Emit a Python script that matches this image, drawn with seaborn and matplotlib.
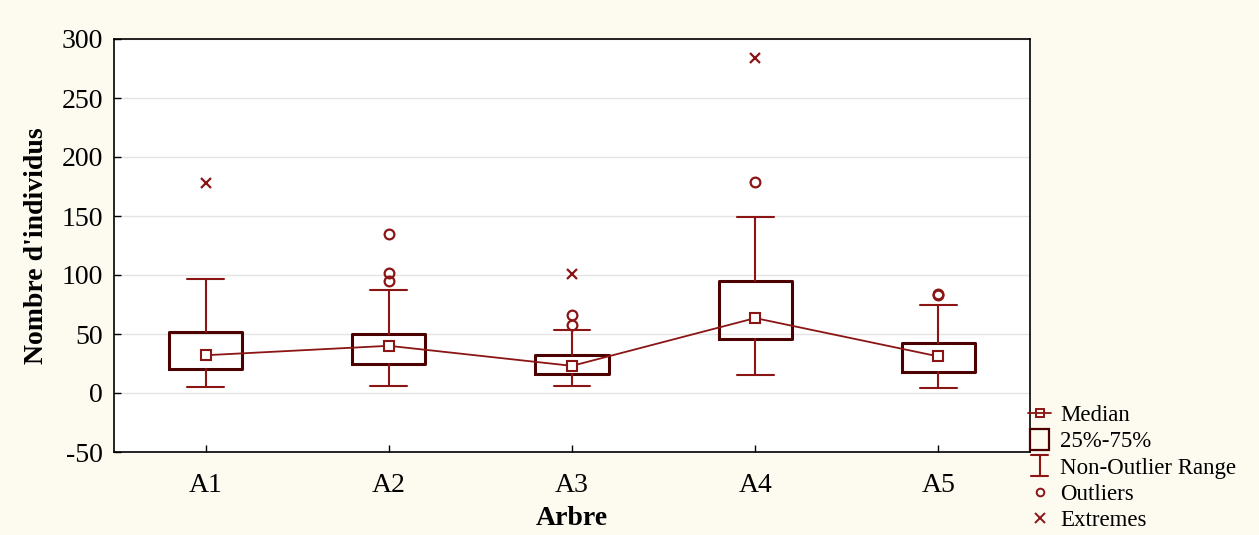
import numpy as np
import pandas as pd
import matplotlib
matplotlib.use("Agg")
import matplotlib.pyplot as plt
import seaborn as sns
from matplotlib.lines import Line2D
from matplotlib.patches import Rectangle
from matplotlib.legend_handler import HandlerBase

# ---- data ----
categories = ["A1", "A2", "A3", "A4", "A5"]
medians = [32, 40, 23, 63.5, 31]
q1 = [20, 24.5, 16, 46, 18]
q3 = [52, 50, 32, 95, 42]
whisker_low = [5, 6, 6, 15, 4]
whisker_high = [97, 87, 53, 149, 75]
outliers = [[], [135, 102, 95], [66, 58], [179], [84, 83]]
extremes = [[178], [], [101], [284], []]
yticks = [-50, 0, 50, 100, 150, 200, 250, 300]

BOX_C = "#4d0000"
LINE_C = "#8b1414"
BG = "#fdfaf0"

sns.set_theme(style="white")
plt.rcParams["font.family"] = ["Liberation Serif", "DejaVu Serif"]
plt.rcParams["text.color"] = "black"
plt.rcParams["axes.labelcolor"] = "black"

fig = plt.figure(figsize=(12.59, 5.35), dpi=100, facecolor=BG)
ax = fig.add_axes([114/1259, 1-452/535, (1030-114)/1259, (452-39)/535])
ax.set_facecolor("white")

pos = np.arange(len(categories))
stats = []
for i, c in enumerate(categories):
    stats.append(dict(label=c, med=medians[i], q1=q1[i], q3=q3[i],
                      whislo=whisker_low[i], whishi=whisker_high[i], fliers=[]))
ax.bxp(stats, positions=pos, widths=0.4, showfliers=False, patch_artist=False,
       boxprops=dict(color=BOX_C, linewidth=2.2),
       whiskerprops=dict(color=LINE_C, linewidth=1.5),
       capprops=dict(color=LINE_C, linewidth=1.5),
       medianprops=dict(linewidth=0), capwidths=0.2, zorder=3)

# median line with square markers
med_df = pd.DataFrame({"x": pos, "y": medians})
sns.lineplot(data=med_df, x="x", y="y", ax=ax, color=LINE_C, linewidth=1.3,
             marker="s", markersize=6.5, markerfacecolor="white",
             markeredgecolor=LINE_C, markeredgewidth=1.5, zorder=4)

out_df = pd.DataFrame([(pos[i], v) for i in range(len(categories)) for v in outliers[i]],
                      columns=["x", "y"])
ext_df = pd.DataFrame([(pos[i], v) for i in range(len(categories)) for v in extremes[i]],
                      columns=["x", "y"])
ax.plot(out_df["x"], out_df["y"], linestyle="none", marker="o", markersize=7,
        markerfacecolor="none", markeredgecolor=LINE_C, markeredgewidth=1.6, zorder=5)
ax.plot(ext_df["x"], ext_df["y"], linestyle="none", marker="x", markersize=7.5,
        color=LINE_C, markeredgewidth=1.6, zorder=5)

ax.set_xlim(-0.5, len(categories) - 0.5)
ax.set_ylim(-50, 300)
ax.set_yticks(yticks)
ax.set_yticklabels([str(t) for t in yticks])
ax.set_xticks(pos)
ax.set_xticklabels(categories)
ax.yaxis.grid(True, color="#e4e4e4", linewidth=1.0, zorder=0)
ax.xaxis.grid(False)
ax.set_axisbelow(True)
for s in ax.spines.values():
    s.set_color("black")
    s.set_linewidth(1.2)
ax.tick_params(axis="both", direction="in", length=5, width=1, colors="black",
               labelsize=20, pad=8, left=True, bottom=True)
ax.tick_params(axis="x", pad=15)
ax.set_xlabel("Arbre", fontsize=20, fontweight="bold", labelpad=6)
ax.set_ylabel("Nombre d'individus", fontsize=20, fontweight="bold", labelpad=9)


class HandlerRange(HandlerBase):
    def create_artists(self, legend, orig_handle, xdescent, ydescent, width, height, fontsize, trans):
        cx = width / 2 - xdescent
        l1 = Line2D([cx, cx], [-ydescent - 2, height + 2], color=LINE_C, lw=1.5, transform=trans)
        l2 = Line2D([cx - 6, cx + 6], [-ydescent - 2, -ydescent - 2], color=LINE_C, lw=1.5, transform=trans)
        l3 = Line2D([cx - 6, cx + 6], [height + 2, height + 2], color=LINE_C, lw=1.5, transform=trans)
        return [l1, l2, l3]


class HandlerBox(HandlerBase):
    def create_artists(self, legend, orig_handle, xdescent, ydescent, width, height, fontsize, trans):
        cx = width / 2 - xdescent
        r = Rectangle((cx - 7, -ydescent - 2), 14, height + 4, facecolor="none",
                      edgecolor=BOX_C, lw=1.6, transform=trans)
        return [r]


class RangeKey:
    pass


h_med = Line2D([], [], color=LINE_C, lw=1.3, marker="s", markersize=6,
               markerfacecolor="none", markeredgecolor=LINE_C, markeredgewidth=1.4)
h_box = Rectangle((0, 0), 1, 1)
h_rng = RangeKey()
h_out = Line2D([], [], linestyle="none", marker="o", markersize=5.5,
               markerfacecolor="none", markeredgecolor=LINE_C, markeredgewidth=1.4)
h_ext = Line2D([], [], linestyle="none", marker="x", markersize=7,
               color=LINE_C, markeredgewidth=1.4)

fig.legend([h_med, h_box, h_rng, h_out, h_ext],
           ["Median", "25%-75%", "Non-Outlier Range", "Outliers", "Extremes"],
           handler_map={Rectangle: HandlerBox(), RangeKey: HandlerRange()},
           loc="lower left", bbox_to_anchor=(1012/1259, -0.022), frameon=False,
           fontsize=16.5, handlelength=1.0, handletextpad=0.4, labelspacing=0.22,
           borderaxespad=0.3)

fig.savefig("out.png", dpi=100, facecolor=BG)
